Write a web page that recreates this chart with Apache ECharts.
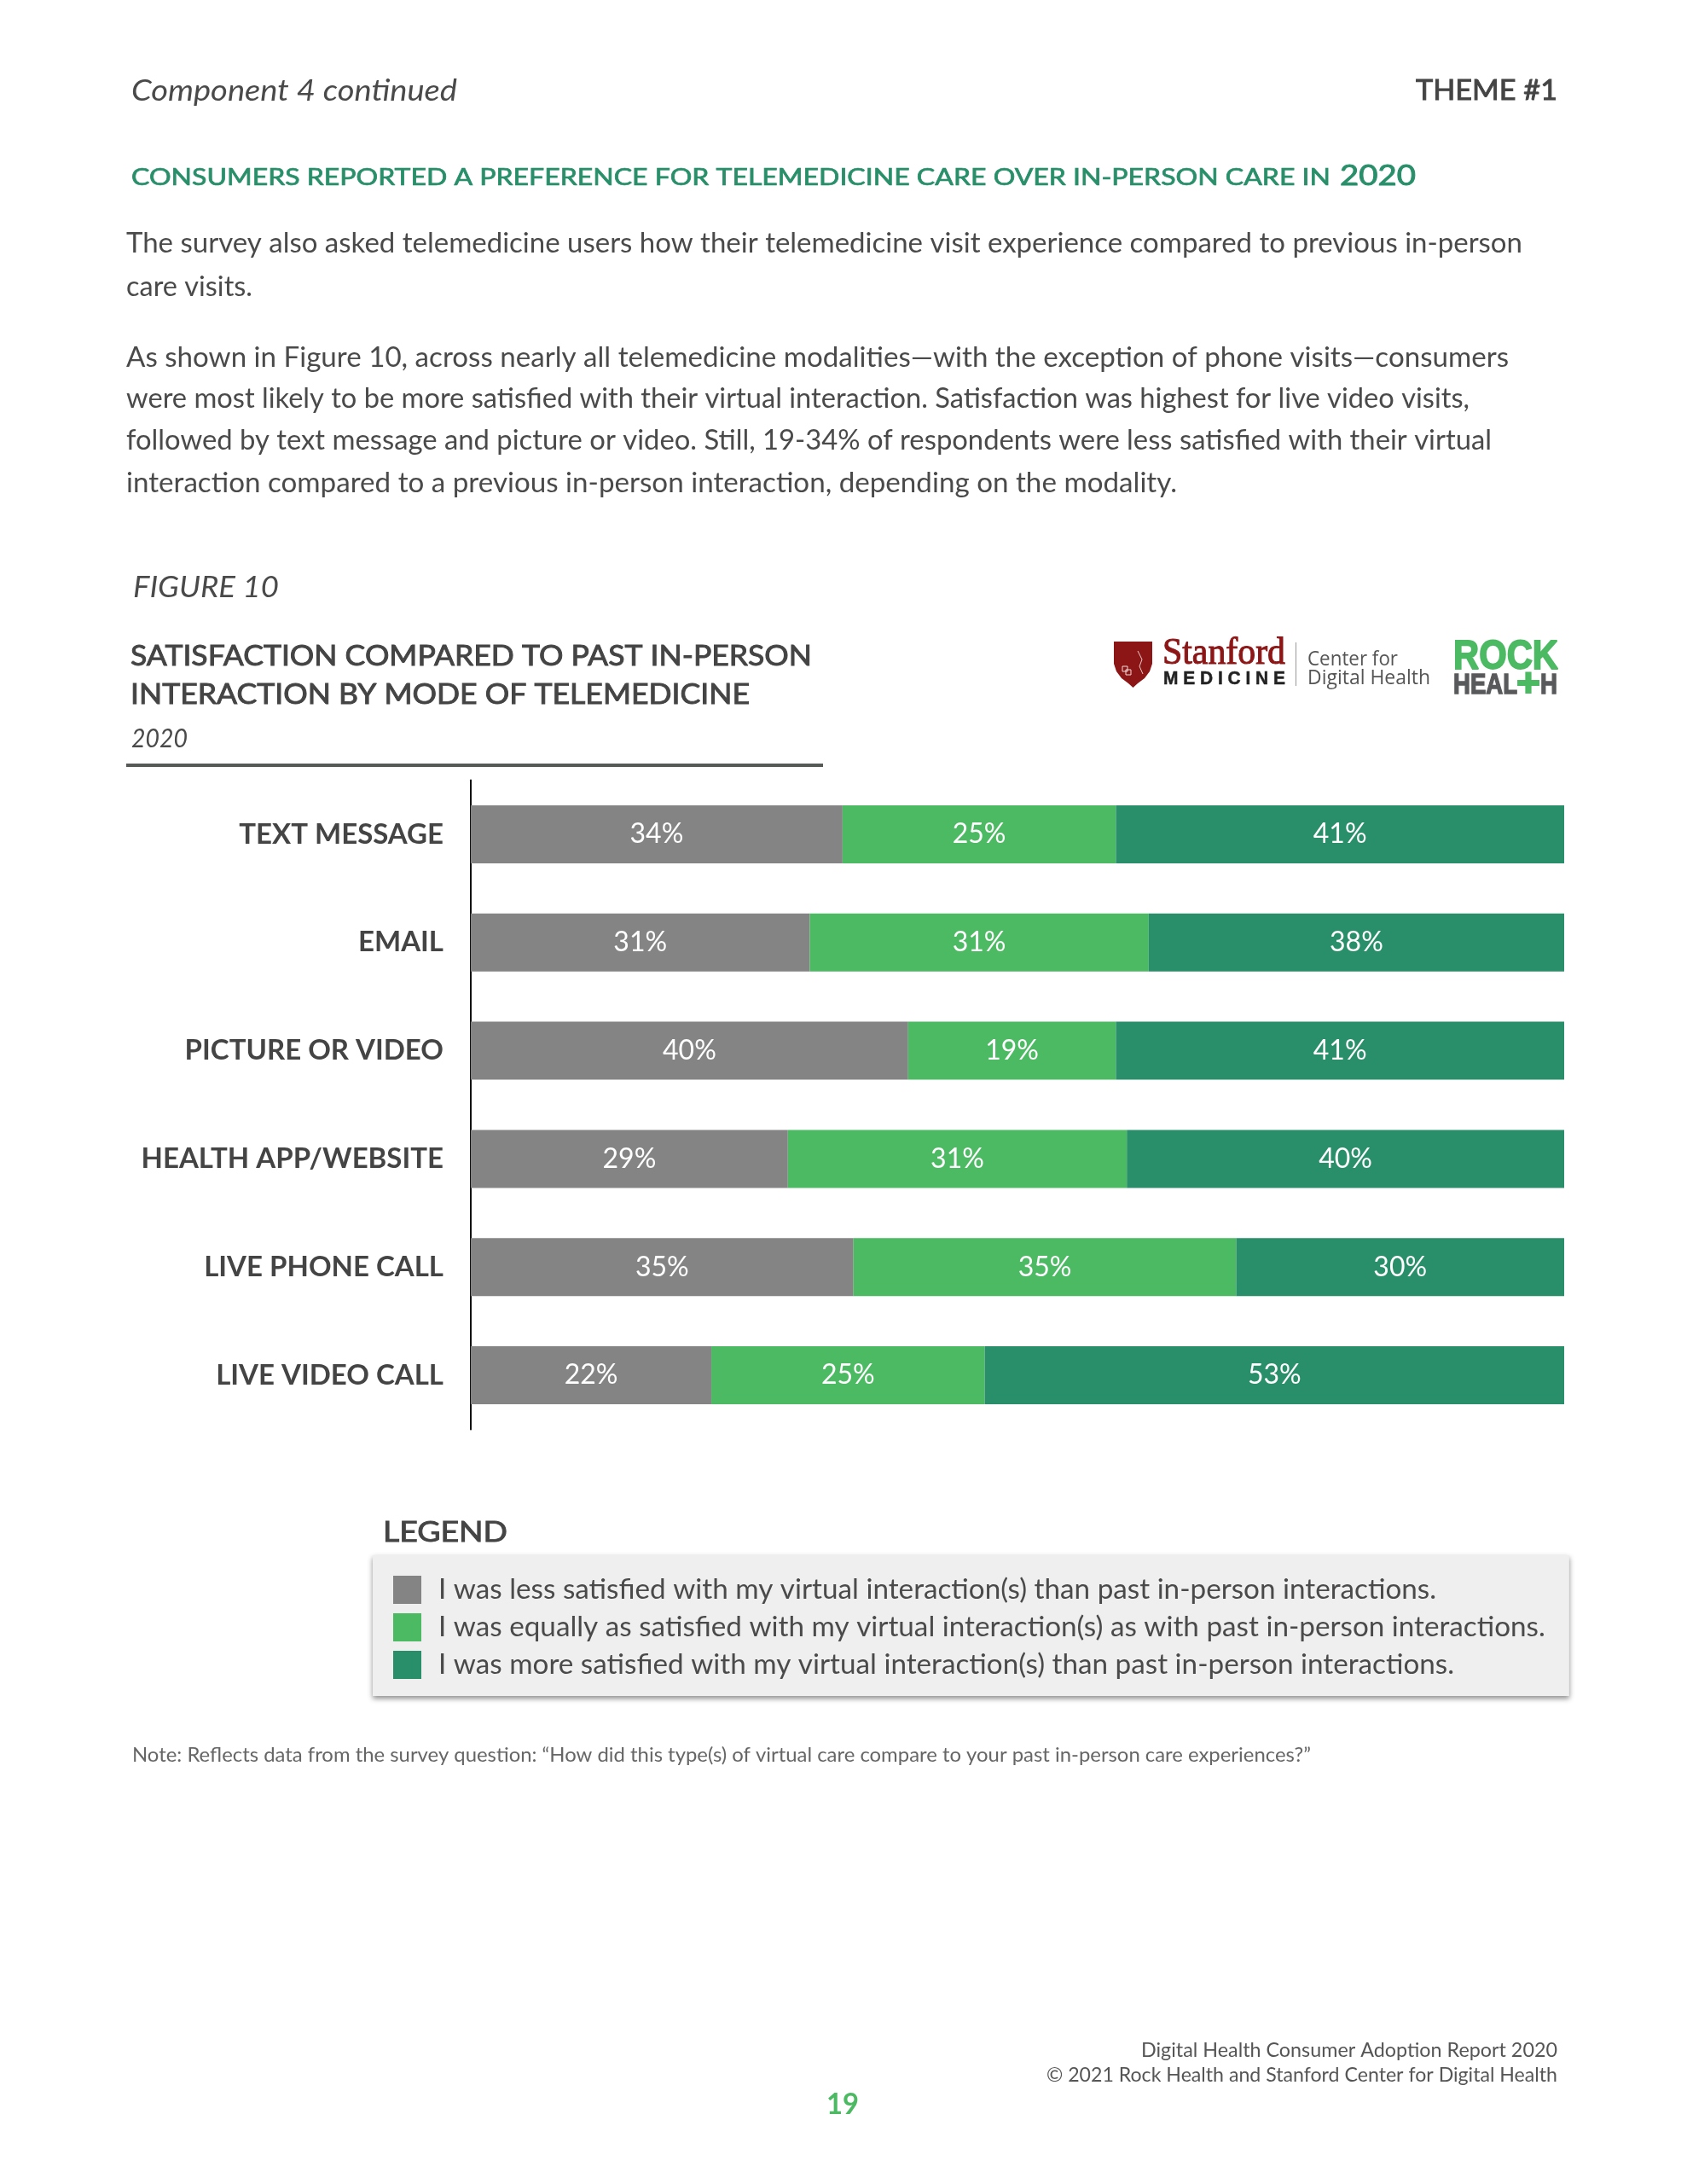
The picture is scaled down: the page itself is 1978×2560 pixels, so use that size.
<!DOCTYPE html>
<html><head><meta charset="utf-8">
<style>html,body{margin:0;padding:0;background:#fff}#c{width:1978px;height:2560px}</style>
<script src="https://cdn.jsdelivr.net/npm/echarts@6/dist/echarts.min.js"></script>
</head><body><div id="c"></div>
<script>
const categories = ['TEXT MESSAGE','EMAIL','PICTURE OR VIDEO','HEALTH APP/WEBSITE','LIVE PHONE CALL','LIVE VIDEO CALL'];
const lessSatisfied = [34,31,40,29,35,22];
const equallySatisfied = [25,31,19,31,35,25];
const moreSatisfied = [41,38,41,40,30,53];
const seriesNames = [
  'I was less satisfied with my virtual interaction(s) than past in-person interactions.',
  'I was equally as satisfied with my virtual interaction(s) as with past in-person interactions.',
  'I was more satisfied with my virtual interaction(s) than past in-person interactions.'
];
const GREY='#848484', GREEN='#4CB963', TEAL='#288F6A', INK='#444444', BODY='#4a4a4a';
const LATO='Lato, sans-serif';
const SANS='"Liberation Sans",sans-serif';

const ctx=document.createElement('canvas').getContext('2d');
function T(str,x,x2,y,size,opt){
  opt=opt||{};
  const weight=opt.weight||400, italic=opt.italic?'italic ':'', fam=opt.family||LATO;
  const font=italic+weight+' '+size+'px '+fam;
  ctx.font=font;
  const w=ctx.measureText(str).width;
  const fill=opt.color||BODY;
  const style={text:str,x:0,y:0,font:font,fill:fill,textAlign:'left',textVerticalAlign:'middle'};
  if(opt.stroke){style.stroke=fill;style.lineWidth=opt.stroke;}
  return {type:'text',x:x,y:y,scaleX:(x2-x)/w,silent:true,z:10,style:style};
}
const page=[
  T('Component 4 continued',154,536,107,34,{italic:true,color:'#4a4a4a'}),
  T('THEME #1',1660,1826,107,32,{stroke:0.9,color:INK}),
  T('CONSUMERS REPORTED A PREFERENCE FOR TELEMEDICINE CARE OVER IN-PERSON CARE IN',154,1560,208,27,{stroke:0.7,color:TEAL}),
  T('2020',1571,1660,206,33,{stroke:0.9,color:TEAL}),
  T('The survey also asked telemedicine users how their telemedicine visit experience compared to previous in-person',148,1785,285,33),
  T('care visits.',148,296,336,33),
  T('As shown in Figure 10, across nearly all telemedicine modalities\u2014with the exception of phone visits\u2014consumers',148,1769,419,33),
  T('were most likely to be more satisfied with their virtual interaction. Satisfaction was highest for live video visits,',148,1723,467,33),
  T('followed by text message and picture or video. Still, 19-34% of respondents were less satisfied with their virtual',148,1749,516,33),
  T('interaction compared to a previous in-person interaction, depending on the modality.',148,1380,566,33),
  T('FIGURE 10',156,327,689,34,{italic:true}),
  T('SATISFACTION COMPARED TO PAST IN-PERSON',153,952,770,32,{stroke:0.9,color:INK}),
  T('INTERACTION BY MODE OF TELEMEDICINE',153,879,815,32,{stroke:0.9,color:INK}),
  T('2020',154,220,866,30,{italic:true}),
  {type:'rect',silent:true,shape:{x:148,y:895,width:817,height:4},style:{fill:'#565a56'}},
  T('LEGEND',449,595,1797,32,{stroke:0.9,color:INK}),
  T('Note: Reflects data from the survey question: \u201cHow did this type(s) of virtual care compare to your past in-person care experiences?\u201d',155,1537,2058,23,{color:'#666666'}),
  T('Digital Health Consumer Adoption Report 2020',1338,1826,2403,24,{color:'#555555'}),
  T('\u00a9 2021 Rock Health and Stanford Center for Digital Health',1227,1826,2432,24,{color:'#555555'}),
  T('19',969,1007,2467,34,{weight:700,color:GREEN}),
  // logos
  {type:'polygon',silent:true,shape:{points:[[1306,752],[1351,752],[1351,778],[1348,787],[1342,795],[1334,801],[1328.5,806],[1323,801],[1315,795],[1309,787],[1306,778]]},style:{fill:'#8c1515'}},
  {type:'polyline',silent:true,shape:{points:[[1334,763],[1339,773],[1336,781],[1340,790]]},style:{stroke:'#e8caca',lineWidth:1,fill:null}},
  {type:'rect',silent:true,shape:{x:1316,y:781,width:6,height:6},style:{stroke:'#f0dcdc',lineWidth:1,fill:null}},
  {type:'rect',silent:true,shape:{x:1320,y:785,width:6,height:6},style:{stroke:'#f0dcdc',lineWidth:1,fill:null}},
  T('Stanford',1363,1507,766,44,{family:'"Liberation Serif",serif',weight:400,stroke:1,color:'#8c1515'}),
  T('M E D I C I N E',1364,1507,796,22,{family:SANS,weight:700,stroke:0.5,color:'#222222'}),
  {type:'rect',silent:true,shape:{x:1519,y:753,width:1,height:51},style:{fill:'#999999'}},
  T('Center for',1533,1639,773,23,{family:'"Open Sans",sans-serif',color:'#555555'}),
  T('Digital Health',1533,1677,795,23,{family:'"Open Sans",sans-serif',color:'#555555'}),
  T('ROCK',1704,1827,771,48,{family:SANS,weight:700,stroke:1.8,color:GREEN}),
  T('HEAL',1704,1779,804,33,{family:SANS,weight:700,stroke:1.4,color:'#58595b'}),
  T('+',1778,1806,803,46,{family:SANS,weight:700,stroke:1.8,color:GREEN}),
  T('H',1806,1826,804,33,{family:SANS,weight:700,stroke:1.4,color:'#58595b'})
];
function bar(name,data,color){
  return {name:name,type:'bar',stack:'total',data:data,barWidth:68,
    itemStyle:{color:color},
    label:{show:true,position:'inside',formatter:'{c}%',color:'#ffffff',fontFamily:LATO,fontSize:32}};
}
const chart=echarts.init(document.getElementById('c'),null,{renderer:'canvas',width:1978,height:2560});
chart.setOption({
  animation:false,
  backgroundColor:'#ffffff',
  grid:{left:552,top:914.5,width:1282,height:761,containLabel:false},
  xAxis:{type:'value',min:0,max:100,show:false},
  yAxis:{type:'category',inverse:true,data:categories,
    axisTick:{show:false},
    axisLine:{show:true,lineStyle:{color:'#111111',width:2}},
    axisLabel:{margin:32,color:INK,fontFamily:LATO,fontWeight:700,fontSize:33,align:'right'}},
  legend:{show:true,orient:'vertical',left:437,top:1823,selectedMode:false,
    icon:'rect',itemWidth:33,itemHeight:33,itemGap:11,
    padding:[24,28,20,24],backgroundColor:'#efefef',
    shadowColor:'rgba(0,0,0,0.45)',shadowBlur:6,shadowOffsetY:3,
    textStyle:{color:BODY,fontFamily:LATO,fontSize:33.25,padding:[0,0,0,15]},
    data:seriesNames},
  series:[bar(seriesNames[0],lessSatisfied,GREY),bar(seriesNames[1],equallySatisfied,GREEN),bar(seriesNames[2],moreSatisfied,TEAL)],
  graphic:page
});
</script></body></html>
